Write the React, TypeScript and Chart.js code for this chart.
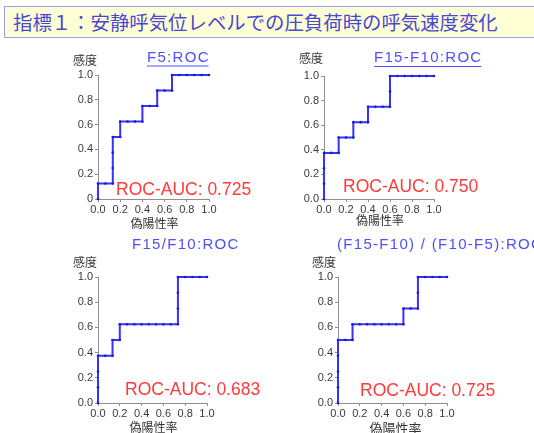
import React, { useEffect, useRef } from 'react';
import { Chart, registerables } from 'chart.js';

Chart.register(...registerables);

// ---- data ----
const N_NEG = 15; // negatives (false-positive denominator)
const N_POS = 8; // positives (sensitivity denominator)

const f5FP = [0, 0, 1, 2, 2, 2, 2, 3, 3, 4, 5, 6, 6, 7, 8, 8, 9, 10, 10, 11, 12, 13, 14, 15];
const f5TP = [0, 1, 1, 1, 2, 3, 4, 4, 5, 5, 5, 5, 6, 6, 6, 7, 7, 7, 8, 8, 8, 8, 8, 8];

const diffFP = [0, 0, 0, 0, 1, 2, 2, 3, 4, 4, 5, 6, 6, 7, 8, 9, 9, 9, 10, 11, 12, 13, 14, 15];
const diffTP = [0, 1, 2, 3, 3, 3, 4, 4, 4, 5, 5, 5, 6, 6, 6, 6, 7, 8, 8, 8, 8, 8, 8, 8];

const ratioFP = [0, 0, 0, 0, 1, 2, 2, 3, 3, 4, 5, 6, 7, 8, 9, 10, 11, 11, 11, 11, 12, 13, 14, 15];
const ratioTP = [0, 1, 2, 3, 3, 3, 4, 4, 5, 5, 5, 5, 5, 5, 5, 5, 5, 6, 7, 8, 8, 8, 8, 8];

const slopeFP = [0, 0, 0, 0, 0, 1, 2, 2, 3, 4, 5, 6, 7, 8, 9, 9, 10, 11, 11, 11, 12, 13, 14, 15];
const slopeTP = [0, 1, 2, 3, 4, 4, 4, 5, 5, 5, 5, 5, 5, 5, 5, 6, 6, 6, 7, 8, 8, 8, 8, 8];

const xTickLabels = ['0.0', '0.2', '0.4', '0.6', '0.8', '1.0'];
const yTickLabelsFirst = ['0', '0.2', '0.4', '0.6', '0.8', '1.0'];
const yTickLabels = ['0.0', '0.2', '0.4', '0.6', '0.8', '1.0'];

const chartTitles = ['F5:ROC', 'F15-F10:ROC', 'F15/F10:ROC', '(F15-F10) / (F10-F5):ROC'];
const aucLabels = ['ROC-AUC: 0.725', 'ROC-AUC: 0.750', 'ROC-AUC: 0.683', 'ROC-AUC: 0.725'];
const yAxisLabel = '感度';
const xAxisLabel = '偽陽性率';
const pageTitle = '指標１：安静呼気位レベルでの圧負荷時の呼気速度変化';

// ---- styling / layout ----
const LINE_BLUE = '#3434ff';
const DOT_BLUE = '#1c1cc8';
const TITLE_BLUE = '#4e4eff';
const AUC_RED = '#ff3a3a';
const AXIS_GREY = '#8f8f8f';
const TICK_TEXT = '#3a3a3a';
const LATIN = '"Liberation Sans", Arial, sans-serif';
const CJK = '"Noto Sans CJK JP", sans-serif';

type PanelCfg = {
  left: number; top: number; width: number; height: number;
  yW: number; xH: number; padR: number; padT: number;
  fp: number[]; tp: number[]; yTicks: string[];
  title: string; titleX: number; titleY: number; underline: boolean;
  auc: string; aucX: number; aucY: number;
  yLabX: number; yLabY: number; xLabDX: number; xLabDY: number; xLabSize: number;
};

const panels: PanelCfg[] = [
  {
    left: 40, top: 45, width: 230, height: 184, yW: 58, xH: 30, padR: 61, padT: 30,
    fp: f5FP, tp: f5TP, yTicks: yTickLabelsFirst,
    title: chartTitles[0], titleX: 107, titleY: 12.5, underline: true,
    auc: aucLabels[0], aucX: 76, aucY: 145,
    yLabX: 33, yLabY: 15, xLabDX: 1, xLabDY: 24, xLabSize: 12,
  },
  {
    left: 270, top: 45, width: 264, height: 184, yW: 54, xH: 30, padR: 100, padT: 31,
    fp: diffFP, tp: diffTP, yTicks: yTickLabels,
    title: chartTitles[1], titleX: 104, titleY: 13, underline: true,
    auc: aucLabels[1], aucX: 73, aucY: 141.7,
    yLabX: 29, yLabY: 13, xLabDX: 1, xLabDY: 21, xLabSize: 12,
  },
  {
    left: 40, top: 229, width: 230, height: 204, yW: 58, xH: 30, padR: 63, padT: 48,
    fp: ratioFP, tp: ratioTP, yTicks: yTickLabels,
    title: chartTitles[2], titleX: 92, titleY: 15.5, underline: false,
    auc: aucLabels[2], aucX: 85, aucY: 161,
    yLabX: 33, yLabY: 33, xLabDX: 1, xLabDY: 24, xLabSize: 12,
  },
  {
    left: 270, top: 229, width: 264, height: 204, yW: 68, xH: 30, padR: 87, padT: 48,
    fp: slopeFP, tp: slopeTP, yTicks: yTickLabels,
    title: chartTitles[3], titleX: 67, titleY: 15.5, underline: false,
    auc: aucLabels[3], aucX: 90, aucY: 161.7,
    yLabX: 42, yLabY: 33.5, xLabDX: 3, xLabDY: 25, xLabSize: 13,
  },
];

const textPlugin = {
  id: 'rocText',
  afterDraw(chart: any, _args: any, o: any) {
    const ctx = chart.ctx as CanvasRenderingContext2D;
    const ca = chart.chartArea;
    ctx.save();
    // panel title
    ctx.font = `15px ${LATIN}`;
    (ctx as any).letterSpacing = '1.3px';
    ctx.fillStyle = TITLE_BLUE;
    ctx.textAlign = 'left';
    ctx.textBaseline = 'middle';
    ctx.fillText(o.title, o.titleX, o.titleY);
    if (o.underline) {
      const w = ctx.measureText(o.title).width;
      ctx.strokeStyle = TITLE_BLUE;
      ctx.lineWidth = 1;
      ctx.beginPath();
      ctx.moveTo(o.titleX, o.titleY + 8.5);
      ctx.lineTo(o.titleX + w - 1.3, o.titleY + 8.5);
      ctx.stroke();
    }
    (ctx as any).letterSpacing = '0px';
    // AUC
    ctx.font = `17.5px ${LATIN}`;
    ctx.fillStyle = AUC_RED;
    ctx.fillText(o.auc, o.aucX, o.aucY);
    // axis labels
    ctx.fillStyle = '#333333';
    ctx.font = `12px ${CJK}`;
    ctx.fillText(yAxisLabel, o.yLabX, o.yLabY);
    ctx.font = `${o.xLabSize}px ${CJK}`;
    ctx.textAlign = 'center';
    ctx.fillText(xAxisLabel, (ca.left + ca.right) / 2 + o.xLabDX, ca.bottom + o.xLabDY);
    ctx.restore();
  },
};

function RocPanel({ cfg }: { cfg: PanelCfg }) {
  const ref = useRef<HTMLCanvasElement | null>(null);
  useEffect(() => {
    if (!ref.current) return;
    const points = cfg.fp.map((f, i) => ({ x: f / N_NEG, y: cfg.tp[i] / N_POS }));
    const tickFont = { family: LATIN, size: 11 };
    const chart = new Chart(ref.current, {
      type: 'scatter',
      data: {
        datasets: [
          {
            data: points,
            showLine: true,
            borderColor: LINE_BLUE,
            borderWidth: 2,
            pointRadius: 1.3,
            pointBackgroundColor: DOT_BLUE,
            pointBorderWidth: 0,
            clip: false as any,
          } as any,
        ],
      },
      options: {
        animation: false,
        responsive: false,
        events: [],
        layout: { padding: { left: 0, right: cfg.padR, top: cfg.padT, bottom: 0 } },
        plugins: {
          legend: { display: false },
          tooltip: { enabled: false },
          title: { display: false },
          rocText: {
            title: cfg.title, titleX: cfg.titleX, titleY: cfg.titleY, underline: cfg.underline,
            auc: cfg.auc, aucX: cfg.aucX, aucY: cfg.aucY,
            yLabX: cfg.yLabX, yLabY: cfg.yLabY, xLabDX: cfg.xLabDX, xLabDY: cfg.xLabDY,
            xLabSize: cfg.xLabSize,
          },
        } as any,
        scales: {
          x: {
            type: 'linear',
            min: 0,
            max: 1,
            afterFit: (s: any) => { s.height = cfg.xH; },
            ticks: {
              stepSize: 0.2,
              autoSkip: false,
              maxRotation: 0,
              padding: 1,
              color: TICK_TEXT,
              font: tickFont,
              callback: (_v: any, i: number) => xTickLabels[i],
            },
            grid: { drawOnChartArea: false, drawTicks: true, tickLength: 3, color: AXIS_GREY },
            border: { display: true, color: AXIS_GREY, width: 1 },
          },
          y: {
            type: 'linear',
            min: 0,
            max: 1,
            afterFit: (s: any) => { s.width = cfg.yW; },
            ticks: {
              stepSize: 0.2,
              autoSkip: false,
              padding: 2,
              color: TICK_TEXT,
              font: tickFont,
              callback: (_v: any, i: number) => cfg.yTicks[i],
            },
            grid: { drawOnChartArea: false, drawTicks: true, tickLength: 3, color: AXIS_GREY },
            border: { display: true, color: AXIS_GREY, width: 1 },
          },
        },
      },
      plugins: [textPlugin as any],
    });
    return () => chart.destroy();
  }, [cfg]);
  return (
    <canvas
      ref={ref}
      width={cfg.width}
      height={cfg.height}
      style={{ position: 'absolute', left: cfg.left, top: cfg.top, width: cfg.width, height: cfg.height }}
    />
  );
}

export default function App() {
  return (
    <div
      style={{
        position: 'absolute', left: 0, top: 0, width: 534, height: 433,
        overflow: 'hidden', background: '#ffffff',
      }}
    >
      <div
        style={{
          position: 'absolute', left: 4, top: 6, width: 560, height: 32,
          background: '#ffffd6', border: '1.5px solid #9c9cf0', boxSizing: 'border-box',
          fontFamily: CJK, fontSize: 19.4, color: '#4848d4', lineHeight: '29px',
          paddingLeft: 8, whiteSpace: 'nowrap',
        }}
      >
        {pageTitle}
      </div>
      {panels.map((p, i) => (
        <RocPanel key={i} cfg={p} />
      ))}
    </div>
  );
}
